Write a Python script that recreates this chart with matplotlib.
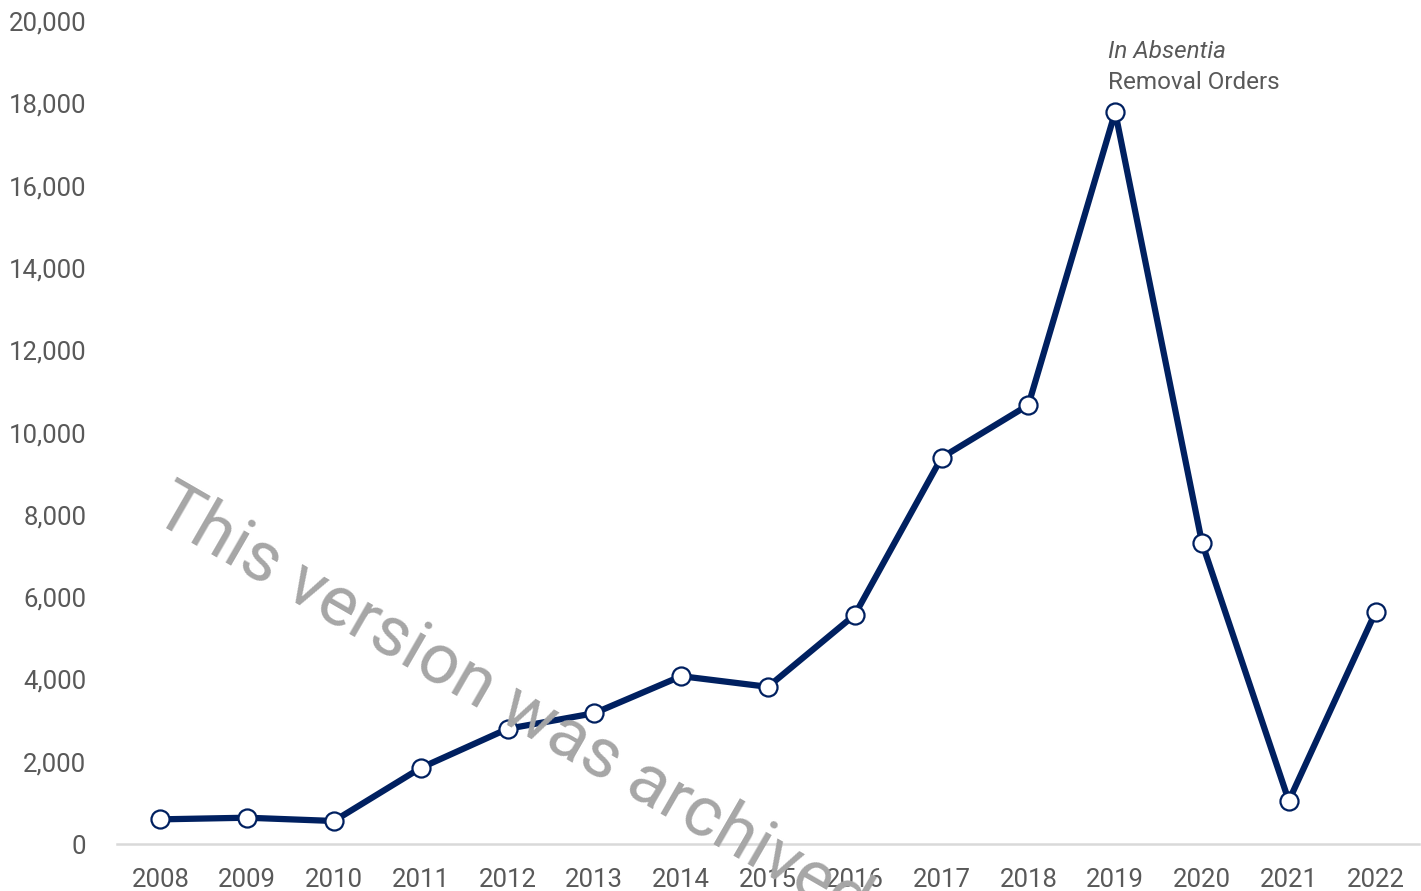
import matplotlib
matplotlib.use("Agg")
import matplotlib.pyplot as plt
from matplotlib.ticker import FuncFormatter

years = [2008, 2009, 2010, 2011, 2012, 2013, 2014, 2015,
         2016, 2017, 2018, 2019, 2020, 2021, 2022]
orders = [600, 640, 560, 1850, 2800, 3180, 4080, 3820,
          5570, 9390, 10670, 17790, 7320, 1050, 5640]

navy = "#002060"
grey = "#595959"

plt.rcParams["font.family"] = ["Roboto", "DejaVu Sans"]

fig = plt.figure(figsize=(14.21, 8.91), dpi=100)
ax = fig.add_axes([0.0823, 0.0527, 0.9163, 0.9237])

ax.plot(years, orders, color=navy, lw=4.5, marker="o", ms=13,
        mfc="white", mec=navy, mew=1.6, zorder=3, clip_on=False)

ax.set_xlim(2007.5, 2022.5)
ax.set_ylim(0, 20000)
ax.set_xticks(years)
ax.set_yticks(range(0, 20001, 2000))
ax.yaxis.set_major_formatter(FuncFormatter(lambda v, p: f"{int(v):,}"))
ax.tick_params(axis="both", length=0, labelsize=18.5, labelcolor=grey)
ax.tick_params(axis="x", pad=17)
ax.tick_params(axis="y", pad=22)

for s in ["top", "right", "left"]:
    ax.spines[s].set_visible(False)
ax.spines["bottom"].set_color("#d9d9d9")
ax.spines["bottom"].set_linewidth(1.8)

# label near the peak
ax.text(2018.92, 19250, "In Absentia", style="italic", color=grey,
        fontsize=17.5, ha="left", va="center")
ax.text(2018.92, 18500, "Removal Orders", color=grey,
        fontsize=17.5, ha="left", va="center")

# archive watermark
fig.text(0.106, 0.418, "This version was archived.", color="#a6a6a6",
         fontsize=51, rotation=-30, rotation_mode="anchor",
         ha="left", va="baseline", zorder=5)

fig.savefig("out.png", dpi=100)
